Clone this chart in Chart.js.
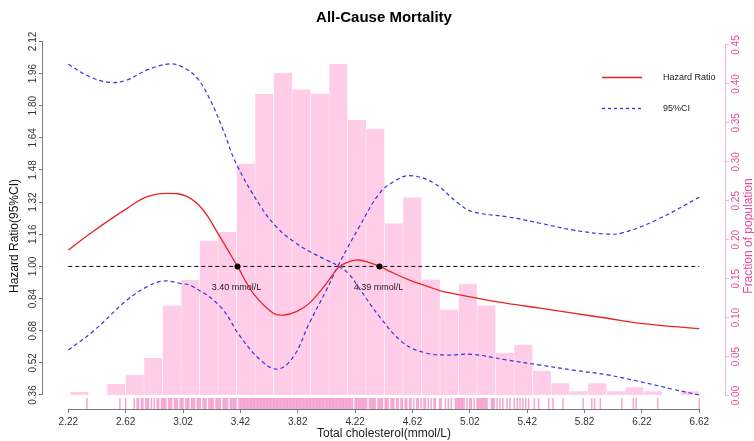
<!DOCTYPE html>
<html><head><meta charset="utf-8">
<script src="https://cdn.jsdelivr.net/npm/chart.js@4.4.1/dist/chart.umd.min.js"></script>
<style>html,body{margin:0;padding:0;background:#fff;}canvas{display:block;}</style>
</head><body>
<canvas id="c" width="754" height="441"></canvas>
<script>
// ---------------- DATA ----------------
const chartTitle = 'All-Cause Mortality';
const xTitle = 'Total cholesterol(mmol/L)';
const yTitle = 'Hazard Ratio(95%CI)';
const y2Title = 'Fraction of population';
const seriesNames = ['Hazard Ratio', '95%CI'];

const xTicks = [2.22, 2.62, 3.02, 3.42, 3.82, 4.22, 4.62, 5.02, 5.42, 5.82, 6.22, 6.62];
const xTickLabels = ['2.22','2.62','3.02','3.42','3.82','4.22','4.62','5.02','5.42','5.82','6.22','6.62'];
const yTicks = [0.36, 0.52, 0.68, 0.84, 1.00, 1.16, 1.32, 1.48, 1.64, 1.80, 1.96, 2.12];
const yTickLabels = ['0.36','0.52','0.68','0.84','1.00','1.16','1.32','1.48','1.64','1.80','1.96','2.12'];
const y2Ticks = [0, 0.05, 0.10, 0.15, 0.20, 0.25, 0.30, 0.35, 0.40, 0.45];
const y2TickLabels = ['0.00','0.05','0.10','0.15','0.20','0.25','0.30','0.35','0.40','0.45'];

// histogram: bin mid-points and fraction of population
const binMids = [2.297, 2.426, 2.555, 2.684, 2.813, 2.942, 3.071, 3.200, 3.329, 3.458, 3.587, 3.716,
  3.845, 3.974, 4.103, 4.232, 4.361, 4.490, 4.619, 4.748, 4.877, 5.006, 5.135, 5.264, 5.393, 5.522,
  5.651, 5.780, 5.909, 6.038, 6.167, 6.296, 6.425, 6.554];
const fractionPop = [0.0045, 0, 0.0148, 0.0264, 0.048, 0.1155, 0.1485, 0.1986, 0.2098, 0.2976, 0.387, 0.414,
  0.393, 0.3876, 0.4257, 0.354, 0.3426, 0.2209, 0.2543, 0.1489, 0.1103, 0.143, 0.1155, 0.0546, 0.0653, 0.0319,
  0.0157, 0.0054, 0.0157, 0.0054, 0.0105, 0.0054, 0, 0.0054];

// hazard ratio curve
const hrX = [2.22, 2.39, 2.63, 2.77, 2.91, 3.05, 3.16, 3.26, 3.40, 3.51, 3.65, 3.72, 3.81, 3.90, 4.02, 4.11,
  4.18, 4.24, 4.32, 4.39, 4.49, 4.60, 4.72, 4.81, 4.94, 5.04, 5.28, 5.51, 5.74, 5.98, 6.21, 6.62];
const hrY = [1.082, 1.173, 1.289, 1.347, 1.364, 1.347, 1.281, 1.168, 1.00, 0.866, 0.767, 0.758, 0.775, 0.816, 0.916, 0.999,
  1.024, 1.032, 1.019, 1.00, 0.966, 0.932, 0.902, 0.880, 0.860, 0.846, 0.816, 0.792, 0.767, 0.742, 0.717, 0.690];

// 95% CI bound starting high
const ci1X = [2.22, 2.37, 2.51, 2.63, 2.77, 2.93, 3.02, 3.12, 3.21, 3.30, 3.39, 3.56, 3.68, 3.79, 3.90, 4.02,
  4.11, 4.18, 4.25, 4.39, 4.56, 4.72, 4.86, 5.04, 5.28, 5.51, 5.74, 5.98, 6.21, 6.44, 6.62];
const ci1Y = [2.006, 1.944, 1.916, 1.928, 1.978, 2.008, 1.991, 1.936, 1.828, 1.679, 1.513, 1.30, 1.19, 1.125, 1.075, 1.032,
  0.999, 0.960, 0.890, 0.750, 0.617, 0.568, 0.559, 0.562, 0.534, 0.509, 0.484, 0.460, 0.426, 0.388, 0.360];

// 95% CI bound starting low
const ci2X = [2.22, 2.39, 2.63, 2.77, 2.88, 3.00, 3.09, 3.28, 3.42, 3.56, 3.68, 3.79, 3.90, 4.02, 4.11, 4.25,
  4.39, 4.49, 4.60, 4.77, 4.94, 5.04, 5.28, 5.51, 5.74, 5.98, 6.09, 6.32, 6.62];
const ci2Y = [0.584, 0.675, 0.833, 0.899, 0.927, 0.916, 0.899, 0.800, 0.650, 0.534, 0.489, 0.551, 0.717, 0.883, 1.016, 1.198,
  1.364, 1.422, 1.452, 1.414, 1.314, 1.272, 1.247, 1.215, 1.181, 1.161, 1.168, 1.231, 1.344];

// reference line HR = 1
const refX = [2.22, 6.62];
const refY = [1.00, 1.00];

// crossing points
const cutX = [3.40, 4.39];
const cutY = [1.00, 1.00];
const cutLabels = ['3.40 mmol/L', '4.39 mmol/L'];

// rug of observed values
const rugValues = [2.35, 2.58, 2.62, 2.68, 2.70, 2.71, 2.73, 2.74, 2.76, 2.77, 2.78, 2.80, 2.82, 2.84, 2.85, 2.87,
  2.88, 2.89, 2.90, 2.92, 2.93, 2.94, 2.96, 2.97, 2.98, 3.00, 3.01, 3.02, 3.04, 3.05, 3.06, 3.08, 3.09, 3.10,
  3.12, 3.13, 3.14, 3.16, 3.17, 3.18, 3.20, 3.21, 3.22, 3.23, 3.25, 3.26, 3.27, 3.28, 3.30, 3.31, 3.32, 3.33,
  3.35, 3.36, 3.37, 3.38, 3.39, 3.41, 3.42, 3.43, 3.44, 3.45, 3.46, 3.47, 3.48, 3.49, 3.50, 3.51, 3.52, 3.53,
  3.54, 3.55, 3.56, 3.57, 3.58, 3.59, 3.60, 3.61, 3.62, 3.63, 3.64, 3.65, 3.66, 3.67, 3.68, 3.69, 3.70, 3.71,
  3.72, 3.73, 3.74, 3.75, 3.76, 3.77, 3.78, 3.79, 3.80, 3.81, 3.82, 3.83, 3.84, 3.85, 3.86, 3.87, 3.88, 3.89,
  3.90, 3.91, 3.92, 3.93, 3.94, 3.95, 3.96, 3.97, 3.98, 3.99, 4.00, 4.01, 4.02, 4.03, 4.04, 4.05, 4.06, 4.07,
  4.08, 4.09, 4.10, 4.11, 4.12, 4.13, 4.14, 4.15, 4.16, 4.17, 4.18, 4.19, 4.20, 4.22, 4.23, 4.24, 4.25, 4.26,
  4.27, 4.28, 4.29, 4.30, 4.32, 4.33, 4.34, 4.35, 4.36, 4.38, 4.39, 4.40, 4.41, 4.43, 4.44, 4.45, 4.47, 4.48,
  4.49, 4.51, 4.52, 4.54, 4.55, 4.57, 4.58, 4.60, 4.61, 4.63, 4.65, 4.66, 4.68, 4.70, 4.71, 4.73, 4.75, 4.77,
  4.78, 4.81, 4.82, 4.85, 4.87, 4.89, 4.92, 4.93, 4.94, 4.95, 4.96, 4.97, 4.98, 5.00, 5.02, 5.03, 5.05, 5.07,
  5.08, 5.09, 5.10, 5.11, 5.12, 5.13, 5.14, 5.17, 5.18, 5.19, 5.21, 5.23, 5.25, 5.28, 5.30, 5.33, 5.35, 5.37,
  5.39, 5.41, 5.43, 5.47, 5.50, 5.57, 5.60, 5.67, 5.81, 5.87, 5.89, 5.93, 6.08, 6.16, 6.18, 6.33, 6.62];

// ---------------- STYLE / LAYOUT ----------------
const FONT = "'Liberation Sans', Arial, Helvetica, sans-serif";
const RED = 'rgb(235,35,35)';
const BLUE = 'rgb(52,52,228)';
const PINK_BAR = 'rgb(255,205,232)';
const PINK_TXT = 'rgb(230,75,155)';
const PINK_AXIS = 'rgb(244,182,214)';
const AXIS_GRAY = '#7a7a7a';
const RUG_COLOR = 'rgba(240,110,182,0.62)';
const RUG_LEVEL = 0.3177; // vertical centre of rug, in HR-axis units
const TITLE_MID_Y = 236;  // vertical centre of the two side titles

Chart.defaults.font.family = FONT;

const xy = (xs, ys) => xs.map((v, i) => ({x: v, y: ys[i]}));

const decor = {
  id: 'decor',
  afterDraw(chart) {
    const {ctx, chartArea: ca, scales} = chart;
    const sx = scales.x, sy = scales.y, sy2 = scales.y2;
    ctx.save();
    ctx.lineWidth = 1;
    // axis lines (spanning the tick range, R style)
    ctx.strokeStyle = AXIS_GRAY;
    ctx.beginPath();
    const by = Math.round(ca.bottom) + 0.5;
    ctx.moveTo(sx.getPixelForValue(xTicks[0]), by);
    ctx.lineTo(sx.getPixelForValue(xTicks[xTicks.length - 1]), by);
    const lx = Math.round(ca.left) - 0.5;
    ctx.moveTo(lx, sy.getPixelForValue(yTicks[0]));
    ctx.lineTo(lx, sy.getPixelForValue(yTicks[yTicks.length - 1]));
    ctx.stroke();
    ctx.strokeStyle = PINK_AXIS;
    ctx.beginPath();
    const rx = Math.round(ca.right) + 0.5;
    ctx.moveTo(rx, sy2.getPixelForValue(y2Ticks[0]));
    ctx.lineTo(rx, sy2.getPixelForValue(y2Ticks[y2Ticks.length - 1]));
    ctx.stroke();

    // crossing labels
    ctx.fillStyle = '#222';
    ctx.font = '9px ' + FONT;
    ctx.textAlign = 'center';
    ctx.textBaseline = 'middle';
    cutX.forEach((v, i) => {
      ctx.fillText(cutLabels[i], sx.getPixelForValue(v) - 1, sy.getPixelForValue(cutY[i]) + 21);
    });

    // side titles (both read bottom to top)
    ctx.save();
    ctx.translate(15, TITLE_MID_Y);
    ctx.rotate(-Math.PI / 2);
    ctx.fillStyle = '#111';
    ctx.font = '12px ' + FONT;
    ctx.fillText(yTitle, 0, 0);
    ctx.restore();
    ctx.save();
    ctx.translate(749, TITLE_MID_Y);
    ctx.rotate(-Math.PI / 2);
    ctx.fillStyle = PINK_TXT;
    ctx.font = '12px ' + FONT;
    ctx.fillText(y2Title, 0, 0);
    ctx.restore();

    // legend
    const items = [
      {label: seriesNames[0], color: RED, dash: [], y: 77.5},
      {label: seriesNames[1], color: BLUE, dash: [3, 3], y: 108.5}
    ];
    items.forEach(it => {
      ctx.save();
      ctx.strokeStyle = it.color;
      ctx.lineWidth = 1.3;
      ctx.setLineDash(it.dash);
      ctx.beginPath();
      ctx.moveTo(602, it.y);
      ctx.lineTo(642, it.y);
      ctx.stroke();
      ctx.restore();
      ctx.fillStyle = '#222';
      ctx.font = '9px ' + FONT;
      ctx.textAlign = 'left';
      ctx.textBaseline = 'middle';
      ctx.fillText(it.label, 663, it.y);
    });
    ctx.restore();
  }
};

new Chart(document.getElementById('c'), {
  type: 'bar',
  data: {
    datasets: [
      {
        type: 'scatter', label: 'cut points', data: xy(cutX, cutY), yAxisID: 'y', order: 0,
        pointRadius: 3, pointBackgroundColor: '#000', pointBorderColor: '#000', pointBorderWidth: 0
      },
      {
        type: 'line', label: seriesNames[0], data: xy(hrX, hrY), yAxisID: 'y', order: 1,
        borderColor: RED, borderWidth: 1.3, pointRadius: 0, fill: false, tension: 0.4
      },
      {
        type: 'line', label: seriesNames[1], data: xy(ci1X, ci1Y), yAxisID: 'y', order: 2,
        borderColor: BLUE, borderWidth: 1.2, borderDash: [4, 3], pointRadius: 0, fill: false, tension: 0.4
      },
      {
        type: 'line', label: seriesNames[1] + ' (lower)', data: xy(ci2X, ci2Y), yAxisID: 'y', order: 3,
        borderColor: BLUE, borderWidth: 1.2, borderDash: [4, 3], pointRadius: 0, fill: false, tension: 0.4
      },
      {
        type: 'line', label: 'HR = 1', data: xy(refX, refY), yAxisID: 'y', order: 4,
        borderColor: '#000', borderWidth: 1, borderDash: [4, 3], pointRadius: 0, fill: false
      },
      {
        type: 'scatter', label: 'rug', data: rugValues.map(v => ({x: v, y: RUG_LEVEL})), yAxisID: 'y', order: 8,
        pointStyle: 'line', rotation: 90, pointRadius: 5.5, pointBorderWidth: 1.5,
        pointBorderColor: RUG_COLOR, pointBackgroundColor: RUG_COLOR
      },
      {
        type: 'bar', label: y2Title, data: xy(binMids, fractionPop), yAxisID: 'y2', order: 10,
        backgroundColor: PINK_BAR, borderColor: 'rgba(255,255,255,0.95)',
        borderWidth: {left: 0.5, right: 0.5, top: 0, bottom: 0}, borderSkipped: 'start',
        barPercentage: 1, categoryPercentage: 1
      }
    ]
  },
  options: {
    responsive: false,
    animation: false,
    devicePixelRatio: 1,
    events: [],
    layout: {padding: {left: 14, right: 0, top: 0, bottom: 0}},
    plugins: {
      legend: {display: false},
      tooltip: {enabled: false},
      title: {
        display: true, text: chartTitle, color: '#000',
        font: {size: 15, weight: 'bold', family: FONT},
        padding: {top: 9, bottom: 0}
      }
    },
    scales: {
      x: {
        type: 'linear', position: 'bottom', min: 2.0436, max: 6.7992, offset: false,
        grid: {display: true, drawOnChartArea: false, drawTicks: true, tickLength: 4, color: AXIS_GRAY, offset: false},
        border: {display: false},
        ticks: {autoSkip: false, maxRotation: 0, minRotation: 0, padding: 3, color: '#333',
          font: {size: 10}, callback: (v, i) => xTickLabels[i]},
        afterBuildTicks: s => { s.ticks = xTicks.map(v => ({value: v})); },
        afterFit: s => { s.height = 32; },
        title: {display: true, text: xTitle, color: '#222', font: {size: 12}, padding: {top: 0, bottom: 0}}
      },
      y: {
        type: 'linear', position: 'left', min: 0.2903, max: 2.1917,
        grid: {display: true, drawOnChartArea: false, drawTicks: true, tickLength: 4, color: AXIS_GRAY},
        border: {display: false},
        ticks: {autoSkip: false, minRotation: 90, maxRotation: 90, crossAlign: 'center', padding: -4,
          color: '#333', font: {size: 10}, callback: (v, i) => yTickLabels[i]},
        afterBuildTicks: s => { s.ticks = yTicks.map(v => ({value: v})); },
        afterFit: s => { s.width = 29; },
        title: {display: false}
      },
      y2: {
        type: 'linear', position: 'right', min: -0.01733, max: 0.4731,
        grid: {display: true, drawOnChartArea: false, drawTicks: true, tickLength: 4, color: PINK_AXIS},
        border: {display: false},
        ticks: {autoSkip: false, minRotation: 90, maxRotation: 90, crossAlign: 'center', padding: -2,
          color: PINK_TXT, font: {size: 10}, callback: (v, i) => y2TickLabels[i]},
        afterBuildTicks: s => { s.ticks = y2Ticks.map(v => ({value: v})); },
        afterFit: s => { s.width = 29; },
        title: {display: false}
      }
    }
  },
  plugins: [decor]
});
</script>
</body></html>
